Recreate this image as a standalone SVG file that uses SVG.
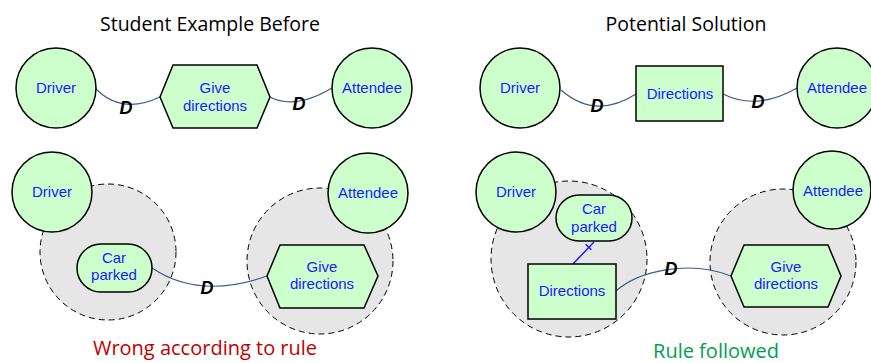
<svg xmlns="http://www.w3.org/2000/svg" width="871" height="363" viewBox="0 0 871 363">
<style>
.bg{fill:#ffffff}
.node{fill:#ccffcc;stroke:#000;stroke-width:1.5}
.grp{fill:#e6e6e6;stroke:#000;stroke-width:1;stroke-dasharray:6 4}
.lbl{font-family:"Liberation Sans",Arial,sans-serif;font-size:15px;fill:#1a1aff;text-anchor:middle}
.conn{fill:none;stroke:#3a5a8c;stroke-width:1.1}
.d{font-family:"Liberation Sans",Arial,sans-serif;font-size:18px;font-weight:bold;font-style:italic;fill:#000;text-anchor:middle}
.title{font-family:"Open Sans","Liberation Sans",sans-serif;font-size:19.5px;fill:#000;text-anchor:middle}
.note{font-family:"Open Sans","Liberation Sans",sans-serif;font-size:20px;text-anchor:middle}
</style>
<rect class="bg" x="0" y="0" width="871" height="363"/>
<text class="title" x="210" y="31">Student Example Before</text>
<text class="title" x="686" y="31">Potential Solution</text>

<g id="groups">
<circle id="grp-bl-left" class="grp" cx="108" cy="252" r="68"/>
<circle id="grp-bl-right" class="grp" cx="320" cy="261" r="73"/>
<circle id="grp-br-left" class="grp" cx="569" cy="259" r="78"/>
<circle id="grp-br-right" class="grp" cx="783" cy="262" r="73"/>
</g>

<g id="connectors">
<path class="conn" d="M96,89 Q122,115 160,97"/>
<path class="conn" d="M270,97 Q295,110 332,88"/>
<path class="conn" d="M561,90 Q595,120 636,94"/>
<path class="conn" d="M723,94 Q757,111 797,88"/>
<path class="conn" d="M152,268 Q200,300 267,276"/>
<path class="conn" d="M616,291 C640,270 690,260 731,276"/>
<line x1="594" y1="242" x2="573" y2="264" stroke="#1a1aff" stroke-width="1.5"/>
<line x1="585.6" y1="244.2" x2="591.4" y2="249.8" stroke="#1a1aff" stroke-width="1.5"/>
<text class="d" x="126" y="114">D</text>
<text class="d" x="299" y="110">D</text>
<text class="d" x="597" y="112">D</text>
<text class="d" x="758" y="108">D</text>
<text class="d" x="207" y="294">D</text>
<text class="d" x="671" y="275">D</text>
</g>

<g id="tl-driver"><circle class="node" cx="56" cy="88" r="40"/><text class="lbl" x="56" y="93">Driver</text></g>
<g id="tl-give"><polygon class="node" points="173,65 257,65 270,97 257,128 173,128 160,97"/><text class="lbl" x="215" y="93">Give</text><text class="lbl" x="215" y="111">directions</text></g>
<g id="tl-attendee"><circle class="node" cx="372" cy="88" r="40"/><text class="lbl" x="372" y="93">Attendee</text></g>

<g id="tr-driver"><circle class="node" cx="520" cy="88" r="40"/><text class="lbl" x="520" y="93">Driver</text></g>
<g id="tr-directions"><rect class="node" x="636" y="66" width="87" height="55"/><text class="lbl" x="680" y="99">Directions</text></g>
<g id="tr-attendee"><circle class="node" cx="837" cy="88" r="40"/><text class="lbl" x="837" y="93">Attendee</text></g>

<g id="bl-driver"><circle class="node" cx="52" cy="192" r="40"/><text class="lbl" x="52" y="197">Driver</text></g>
<g id="bl-car"><rect class="node" x="77" y="244" width="75" height="48" rx="24"/><text class="lbl" x="114" y="263">Car</text><text class="lbl" x="114" y="280">parked</text></g>
<g id="bl-attendee"><circle class="node" cx="368" cy="193" r="40"/><text class="lbl" x="368" y="198">Attendee</text></g>
<g id="bl-give"><polygon class="node" points="280,245 364,245 378,276 364,308 280,308 267,276"/><text class="lbl" x="322" y="272">Give</text><text class="lbl" x="322" y="289">directions</text></g>

<g id="br-driver"><circle class="node" cx="516" cy="192" r="40"/><text class="lbl" x="516" y="197">Driver</text></g>
<g id="br-car"><rect class="node" x="556" y="195" width="76" height="46" rx="23"/><text class="lbl" x="594" y="214">Car</text><text class="lbl" x="594" y="232">parked</text></g>
<g id="br-directions"><rect class="node" x="528" y="264" width="88" height="55"/><text class="lbl" x="572" y="296">Directions</text></g>
<g id="br-attendee"><circle class="node" cx="832" cy="190" r="39"/><text class="lbl" x="833" y="196">Attendee</text></g>
<g id="br-give"><polygon class="node" points="744,245 828,245 841,276 828,307 744,307 731,276"/><text class="lbl" x="786" y="272">Give</text><text class="lbl" x="786" y="289">directions</text></g>

<text class="note" x="205" y="355" fill="#c00000">Wrong according to rule</text>
<text class="note" x="716" y="358" fill="#00a04e">Rule followed</text>
</svg>
